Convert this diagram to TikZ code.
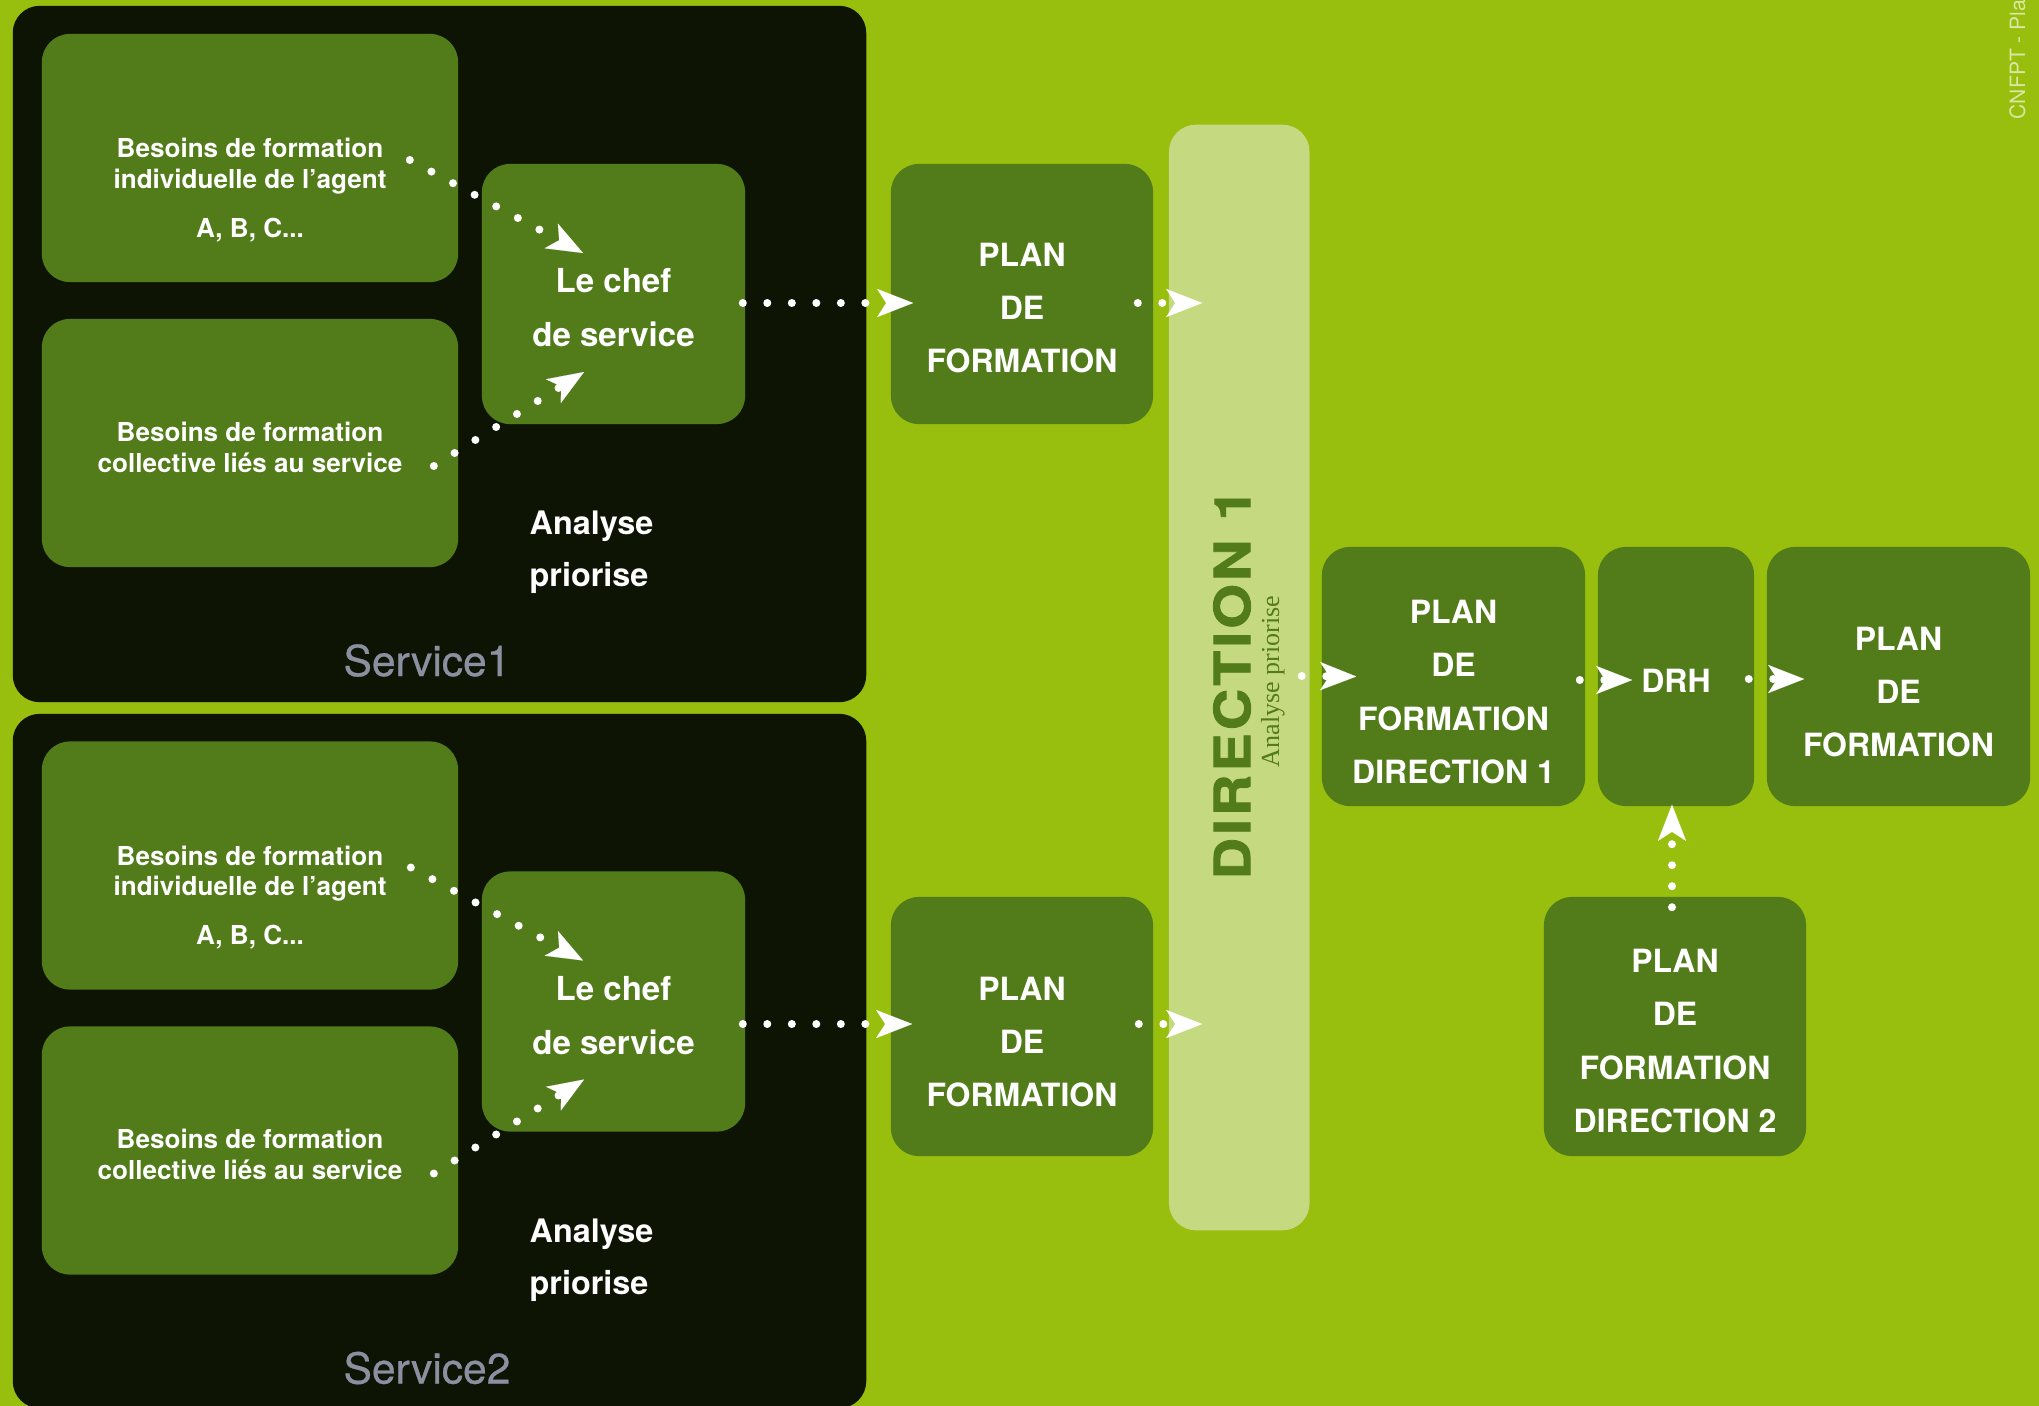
\documentclass[tikz,border=0pt]{standalone}
\usepackage{fontspec}
\setmainfont{TeX Gyre Heros}
\newfontfamily\dirserif{Liberation Serif}
\usetikzlibrary{arrows.meta,calc}

\definecolor{bggreen}{HTML}{98BE0E}
\definecolor{framedark}{HTML}{0E1403}
\definecolor{boxgreen}{HTML}{527C1A}
\definecolor{barlight}{HTML}{C5D980}
\definecolor{svcgray}{HTML}{8A90A0}
\definecolor{creditgreen}{HTML}{D8E8A0}

\tikzset{
  frame/.style={fill=framedark, rounded corners=0.27cm, inner sep=0pt, minimum width=8.53cm},
  gbox/.style={fill=boxgreen, rounded corners=0.28cm, inner sep=0pt},
  needtxt/.style={text=white, align=center, inner sep=0pt, font=\fontsize{7.42}{8.8}\selectfont\bfseries},
  cheftxt/.style={text=white, align=center, inner sep=0pt, font=\fontsize{9.4}{15.4}\selectfont\bfseries},
  plantxt/.style={text=white, align=center, inner sep=0pt, font=\fontsize{9.1}{15.2}\selectfont\bfseries},
  antxt/.style={text=white, align=left, anchor=west, inner sep=0pt, font=\fontsize{9.2}{14.8}\selectfont\bfseries},
  svclabel/.style={text=svcgray, inner sep=0pt, font=\fontsize{12.1}{14}\selectfont\addfontfeatures{FakeBold=0.6}},
  flow/.style={white, line width=0.08cm, line cap=round, dash pattern=on 0pt off 0.245cm,
    -{Stealth[length=0.36cm, width=0.28cm, inset=0.09cm, line width=0.01pt]}},
}

\begin{document}
\begin{tikzpicture}[x=0.01cm, y=-0.01cm]
    \useasboundingbox (0,0) rectangle (2039,1406);
    \fill[bggreen] (0,0) rectangle (2039,1406);

    % Service frames
    \node[frame, minimum height=6.96cm] (svcone) at (439.5,354) {};
    \node[frame, minimum height=6.94cm] (svctwo) at (439.5,1061) {};

    % Service 1
    \node[gbox, minimum width=4.16cm, minimum height=2.48cm] (indone) at (250,158) {};
    \node[gbox, minimum width=4.16cm, minimum height=2.48cm] (colone) at (250,443) {};
    \node[gbox, minimum width=2.63cm, minimum height=2.60cm] (chefone) at (613.5,294) {};
    \node[needtxt] (indonetxt) at (250,190) {Besoins de formation\\individuelle de l’agent\\[5.1pt]A, B, C...};
    \node[needtxt] (colonetxt) at (250,447) {Besoins de formation\\collective liés au service};
    \node[cheftxt] (chefonetxt) at (613.5,308) {Le chef\\de service};
    \node[antxt] (anone) at (529,552) {Analyse\\priorise};
    \node[svclabel] (svconelbl) at (427,660.5) {Service1};

    % Service 2
    \node[gbox, minimum width=4.16cm, minimum height=2.48cm] (indtwo) at (250,865.5) {};
    \node[gbox, minimum width=4.16cm, minimum height=2.48cm] (coltwo) at (250,1150.5) {};
    \node[gbox, minimum width=2.63cm, minimum height=2.60cm] (cheftwo) at (613.5,1001.5) {};
    \node[needtxt] (indtwotxt) at (250,897.5) {Besoins de formation\\individuelle de l’agent\\[5.1pt]A, B, C...};
    \node[needtxt] (coltwotxt) at (250,1154.5) {Besoins de formation\\collective liés au service};
    \node[cheftxt] (cheftwotxt) at (613.5,1016) {Le chef\\de service};
    \node[antxt] (antwo) at (529,1260) {Analyse\\priorise};
    \node[svclabel] (svctwolbl) at (427,1368) {Service2};

    % Plans of the services
    \node[gbox, minimum width=2.62cm, minimum height=2.60cm] (planone) at (1022,294) {};
    \node[plantxt] (planonetxt) at (1022,308) {PLAN\\DE\\FORMATION};
    \node[gbox, minimum width=2.62cm, minimum height=2.59cm] (plantwo) at (1022,1026.5) {};
    \node[plantxt] (plantwotxt) at (1022,1042) {PLAN\\DE\\FORMATION};

    % Direction 1 bar
    \node[fill=barlight, rounded corners=0.27cm, inner sep=0pt, minimum width=1.405cm, minimum height=11.05cm] (dirbar) at (1239.25,677.5) {};
    \node[rotate=90, text=boxgreen, inner sep=0pt,
      font=\fontsize{14.2}{16}\selectfont\bfseries\addfontfeatures{LetterSpace=6,FakeStretch=1.15,FakeBold=1.6}] (dirtitle) at (1232,684) {DIRECTION 1};
    \node[rotate=90, text=boxgreen, inner sep=0pt, font=\dirserif\fontsize{7.4}{9}\selectfont] (dirnote) at (1273,681.5) {Analyse priorise};

    % Direction level
    \node[gbox, minimum width=2.63cm, minimum height=2.59cm] (pdone) at (1453.5,676.5) {};
    \node[plantxt] (pdonetxt) at (1453.5,692) {PLAN\\DE\\FORMATION\\DIRECTION 1};
    \node[gbox, minimum width=1.56cm, minimum height=2.59cm] (drh) at (1676,676.5) {};
    \node[plantxt] (drhtxt) at (1676,681) {DRH};
    \node[gbox, minimum width=2.63cm, minimum height=2.59cm] (pfinal) at (1898.5,676.5) {};
    \node[plantxt] (pfinaltxt) at (1898.5,692) {PLAN\\DE\\FORMATION};
    \node[gbox, minimum width=2.62cm, minimum height=2.59cm] (pdtwo) at (1675,1026.5) {};
    \node[plantxt] (pdtwotxt) at (1675,1041) {PLAN\\DE\\FORMATION\\DIRECTION 2};

    % Credit
    \node[rotate=90, anchor=base east, text=creditgreen, inner sep=0pt, font=\fontsize{6}{7}\selectfont] (credit) at (2025,-1) {CNFPT - Pla};

    % Connections, service 1
    \draw[flow] ([shift={(-49,2)}]indone.east) -- ([shift={(-30.5,-41)}]chefone.center);
    \draw[flow] ([shift={(-25,23)}]colone.east) -- ([shift={(-29.5,78)}]chefone.center);
    \draw[flow] ([shift={(-3,9)}]chefone.east) -- ([shift={(23,9)}]planone.west);
    \draw[flow] ([shift={(-16,9)}]planone.east) -- ($(planone.east -| dirbar.west)+(34,9)$);

    % Connections, service 2
    \draw[flow] ([shift={(-48,2)}]indtwo.east) -- ([shift={(-30.5,-41)}]cheftwo.center);
    \draw[flow] ([shift={(-25,23)}]coltwo.east) -- ([shift={(-29.5,78)}]cheftwo.center);
    \draw[flow] ([shift={(-3,22.5)}]cheftwo.east) -- ([shift={(22,-2.5)}]plantwo.west);
    \draw[flow] ([shift={(-15,-2.5)}]plantwo.east) -- ($(plantwo.east -| dirbar.west)+(34,-2.5)$);

    % Connections, direction level
    \draw[flow] ([shift={(-8.5,-1.5)}]dirbar.east) -- ([shift={(35,0)}]pdone.west);
    \draw[flow] ([shift={(-6,3.5)}]pdone.east) -- ([shift={(35,3.5)}]drh.west);
    \draw[flow] ([shift={(-6,2.5)}]drh.east) -- ([shift={(38,2.5)}]pfinal.west);
    \draw[flow, dash pattern=on 0pt off 0.21cm] ([shift={(-3,11)}]pdtwo.north) -- ([shift={(-4,-2)}]drh.south);
\end{tikzpicture}
\end{document}
